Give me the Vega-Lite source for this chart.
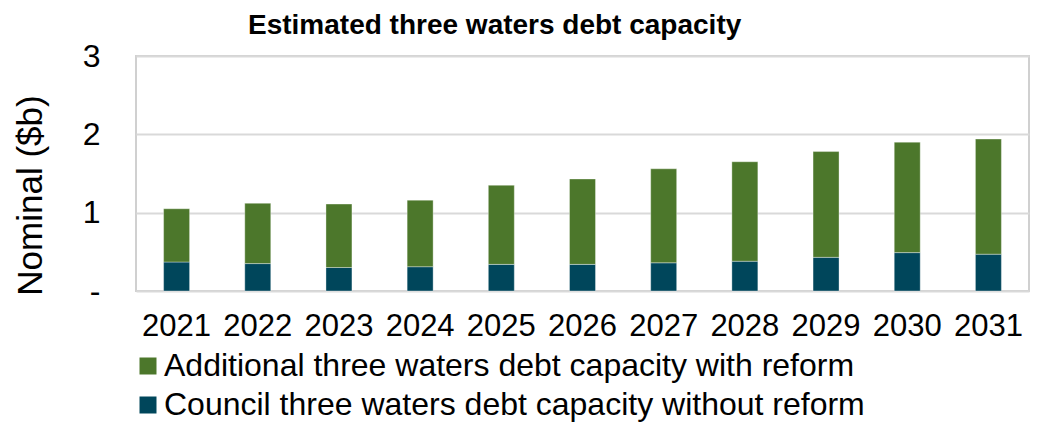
{
  "$schema": "https://vega.github.io/schema/vega-lite/v6.json",
  "autosize": "none",
  "width": 893,
  "height": 235,
  "padding": {"left": 136, "top": 56, "right": 9, "bottom": 135},
  "background": "white",
  "config": {
    "font": "Liberation Sans",
    "view": {"stroke": "#d0d0d0", "strokeWidth": 2},
    "axis": {"labelFont": "Liberation Sans", "titleFont": "Liberation Sans"}
  },
  "title": {
    "text": "Estimated three waters debt capacity",
    "fontSize": 28,
    "fontWeight": "bold",
    "color": "black",
    "anchor": "start",
    "frame": "group",
    "dx": 112,
    "offset": 0
  },
  "data": {
    "values": [
      {"year": "2021", "series": "Council three waters debt capacity without reform", "value": 0.37},
      {"year": "2022", "series": "Council three waters debt capacity without reform", "value": 0.35},
      {"year": "2023", "series": "Council three waters debt capacity without reform", "value": 0.30},
      {"year": "2024", "series": "Council three waters debt capacity without reform", "value": 0.31},
      {"year": "2025", "series": "Council three waters debt capacity without reform", "value": 0.34},
      {"year": "2026", "series": "Council three waters debt capacity without reform", "value": 0.34},
      {"year": "2027", "series": "Council three waters debt capacity without reform", "value": 0.36},
      {"year": "2028", "series": "Council three waters debt capacity without reform", "value": 0.38},
      {"year": "2029", "series": "Council three waters debt capacity without reform", "value": 0.43},
      {"year": "2030", "series": "Council three waters debt capacity without reform", "value": 0.49},
      {"year": "2031", "series": "Council three waters debt capacity without reform", "value": 0.47},
      {"year": "2021", "series": "Additional three waters debt capacity with reform", "value": 0.68},
      {"year": "2022", "series": "Additional three waters debt capacity with reform", "value": 0.77},
      {"year": "2023", "series": "Additional three waters debt capacity with reform", "value": 0.81},
      {"year": "2024", "series": "Additional three waters debt capacity with reform", "value": 0.85},
      {"year": "2025", "series": "Additional three waters debt capacity with reform", "value": 1.01},
      {"year": "2026", "series": "Additional three waters debt capacity with reform", "value": 1.09},
      {"year": "2027", "series": "Additional three waters debt capacity with reform", "value": 1.20},
      {"year": "2028", "series": "Additional three waters debt capacity with reform", "value": 1.27},
      {"year": "2029", "series": "Additional three waters debt capacity with reform", "value": 1.35},
      {"year": "2030", "series": "Additional three waters debt capacity with reform", "value": 1.41},
      {"year": "2031", "series": "Additional three waters debt capacity with reform", "value": 1.47}
    ]
  },
  "mark": {"type": "bar", "stroke": "#ffffff", "strokeOpacity": 0.35, "strokeWidth": 1},
  "encoding": {
    "x": {
      "field": "year",
      "type": "ordinal",
      "scale": {"paddingInner": 0.68, "paddingOuter": 0.34},
      "axis": {
        "title": null,
        "labelAngle": 0,
        "labelFontSize": 31,
        "labelColor": "black",
        "labelPadding": 20,
        "ticks": false,
        "domain": false
      }
    },
    "y": {
      "field": "value",
      "type": "quantitative",
      "stack": "zero",
      "scale": {"domain": [0, 3], "nice": false},
      "axis": {
        "title": "Nominal ($b)",
        "titleFontSize": 35,
        "titleFontWeight": "normal",
        "titleColor": "black",
        "titleX": -106,
        "titleY": 139,
        "titleAngle": -90,
        "titleAlign": "center",
        "titleBaseline": "middle",
        "values": [0, 1, 2, 3],
        "labelExpr": "datum.value == 0 ? '-' : datum.label",
        "labelFontSize": 32,
        "labelColor": "black",
        "labelPadding": 36,
        "ticks": false,
        "domain": false,
        "grid": true,
        "gridColor": "#d9d9d9",
        "gridWidth": 2
      }
    },
    "color": {
      "field": "series",
      "type": "nominal",
      "scale": {
        "domain": ["Additional three waters debt capacity with reform", "Council three waters debt capacity without reform"],
        "range": ["#4c772b", "#00465b"]
      },
      "legend": {
        "title": null,
        "orient": "none",
        "legendX": -4,
        "legendY": 294,
        "direction": "vertical",
        "symbolType": "square",
        "symbolSize": 289,
        "symbolStrokeWidth": 0,
        "labelFontSize": 32,
        "labelColor": "black",
        "labelLimit": 1000,
        "labelOffset": 0,
        "rowPadding": 7
      }
    },
    "order": {"field": "series", "sort": "descending"}
  }
}
